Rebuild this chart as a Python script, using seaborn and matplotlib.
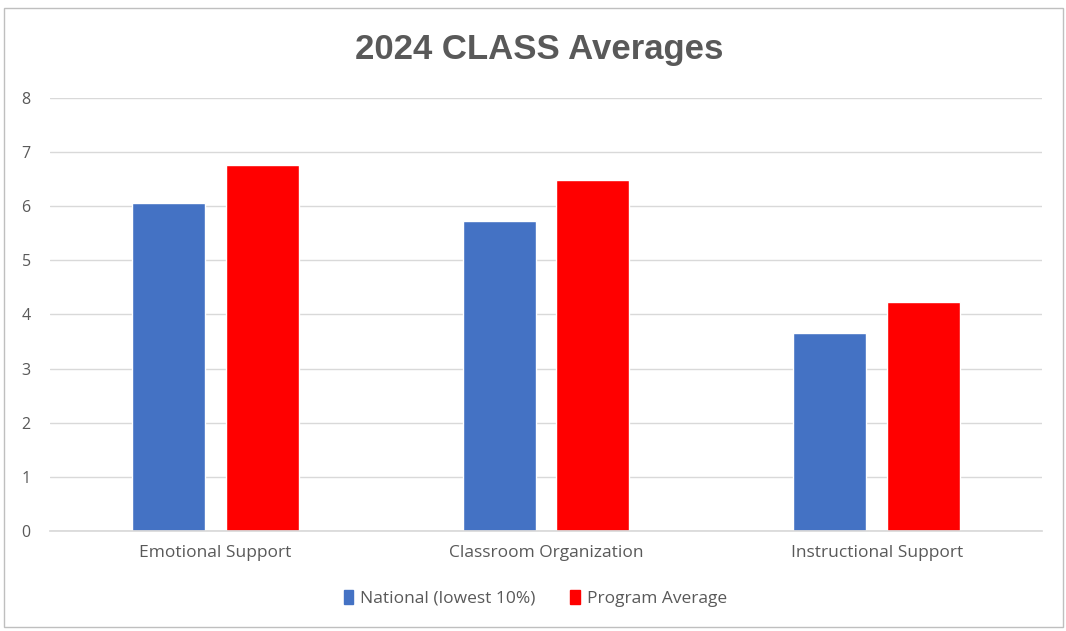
import matplotlib
matplotlib.use("Agg")
import matplotlib.pyplot as plt
import pandas as pd
import seaborn as sns
from matplotlib.patches import Rectangle

# 데이터
categories = ["Emotional Support", "Classroom Organization", "Instructional Support"]
national = [6.06, 5.72, 3.66]
program = [6.77, 6.49, 4.24]
series_names = ["National (lowest 10%)", "Program Average"]
colors = ["#4472C4", "#FF0000"]

df = pd.DataFrame(
    {
        "category": categories * 2,
        "score": national + program,
        "series": [series_names[0]] * 3 + [series_names[1]] * 3,
    }
)

sns.set_theme(style="white")
plt.rcParams["font.family"] = ["Open Sans", "DejaVu Sans"]

fig = plt.figure(figsize=(10.66, 6.31), dpi=100)
ax = fig.add_axes([0.047, 0.1585, 0.9305, 0.6862])

sns.barplot(
    data=df,
    x="category",
    y="score",
    hue="series",
    palette=colors,
    width=0.566,
    gap=0.22,
    saturation=1,
    ax=ax,
    legend=False,
)

ax.set_ylim(0, 8)
ax.set_yticks(range(0, 9))
ax.set_xlabel("")
ax.set_ylabel("")
ax.yaxis.grid(True, color="#d9d9d9", linewidth=1)
ax.set_axisbelow(True)
for s in ["top", "right", "left"]:
    ax.spines[s].set_visible(False)
ax.spines["bottom"].set_color("#d9d9d9")
ax.tick_params(axis="both", length=0, colors="#595959")
ax.tick_params(axis="y", pad=14, labelsize=11.5)
ax.tick_params(axis="x", pad=10, labelsize=12.5)

fig.text(0.506, 0.922, "2024 CLASS Averages", ha="center", va="center",
         fontsize=25, fontweight="bold", color="#595959",
         family=["Liberation Sans", "DejaVu Sans"])

handles = [Rectangle((0, 0), 1, 1, color=c) for c in colors]
fig.legend(handles, series_names, loc="center", bbox_to_anchor=(0.502, 0.052),
           ncol=2, frameon=False, fontsize=12.5, labelcolor="#595959",
           handlelength=0.55, handleheight=0.9, handletextpad=0.4, columnspacing=2.0)

# 차트 테두리
fig.add_artist(Rectangle((0.004, 0.006), 0.993, 0.981, transform=fig.transFigure,
                         fill=False, edgecolor="#bfbfbf", linewidth=1))

fig.savefig("out.png", dpi=100)
